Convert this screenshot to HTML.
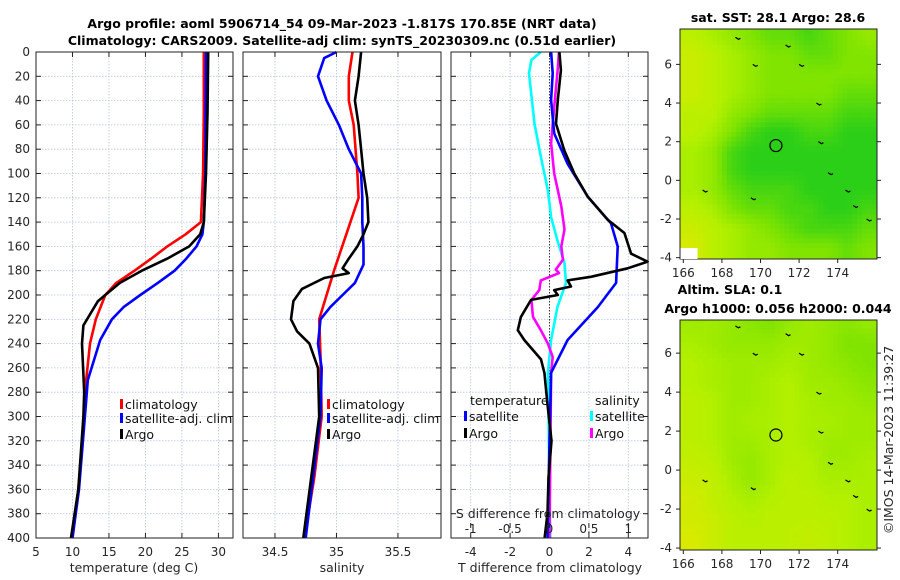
<!DOCTYPE html>
<html><head><meta charset="utf-8"><style>
html,body{margin:0;padding:0;background:#fff}
svg{display:block;font-family:"DejaVu Sans","Liberation Sans",sans-serif}
</style></head><body>
<svg id="c" width="900" height="580" viewBox="0 0 900 580">
<g id="g"></g>
</svg>
<script>
// ---------- data ----------
const depthTicks=[0,20,40,60,80,100,120,140,160,180,200,220,240,260,280,300,320,340,360,380,400];
// Panel 1 temperature
const tClimD=[0,50,100,140,150,160,170,180,190,200,220,240,280,320,360,400];
const tClimV=[28.0,28.0,27.9,27.6,25.5,23,20.8,18.5,16,14.5,13.2,12.4,11.7,11.4,10.8,10];
const tSatD=[0,100,140,150,160,170,180,190,200,210,220,237,270,300,360,400];
const tSatV=[28.3,28.2,28.0,27.8,27,25.6,24,21.7,19.3,17,15.4,13.8,12.1,11.7,10.9,10];
const tArgoD=[0,50,100,140,150,160,170,180,190,200,205,215,225,240,280,300,360,400];
const tArgoV=[28.6,28.5,28.3,28.0,27.5,26,23,19.5,16.5,14.5,13.5,12.5,11.5,11.3,11.6,11.5,10.8,9.8];
const tTicks=[5,10,15,20,25,30];
// Panel 2 salinity
const sClimD=[0,20,40,60,100,120,150,180,200,220,250,300,350,400];
const sClimV=[35.13,35.1,35.1,35.14,35.17,35.18,35.08,34.98,34.92,34.86,34.87,34.88,34.82,34.74];
const sSatD=[0,5,20,40,60,80,100,120,140,160,175,190,200,210,220,240,260,300,400];
const sSatV=[35.0,34.9,34.85,34.92,35.02,35.1,35.2,35.21,35.21,35.22,35.22,35.15,35.05,34.95,34.87,34.85,34.88,34.87,34.75];
const sArgoD=[0,20,40,60,80,100,120,140,150,160,170,178,182,186,195,205,220,230,240,260,300,400];
const sArgoV=[35.2,35.18,35.15,35.18,35.2,35.22,35.25,35.26,35.22,35.17,35.1,35.05,35.1,34.9,34.72,34.65,34.63,34.68,34.78,34.85,34.86,34.73];
const sTicks=[34.5,35,35.5];
// Panel 3 differences
const dTSatD=[0,17.5,39.5,67,92,119,141,160,190,210,237,264,320,400];
const dTSatV=[0.08,0.16,0.08,0.24,0.92,1.94,3.12,3.46,3.38,2.45,0.92,0.08,0,-0.1];
const dTArgoD=[0,15,39.5,59,81,100,119,138,149,166,172.6,178,185,188,193,196,200,204,218,229,237,253,264,290,320,350,380,400];
const dTArgoV=[0.5,0.58,0.42,0.33,0.75,1.26,1.94,2.95,3.8,4.14,4.98,3.97,2.1,0.92,1.09,0.24,0.42,-0.94,-1.45,-1.61,-1.28,-0.43,-0.26,-0.1,0.1,-0.05,-0.1,-0.25];
const dSSatD=[0,6.6,17.5,59,86,114,136,155,174,190,210,237,264,400];
const dSSatV=[-0.11,-0.23,-0.26,-0.19,-0.11,-0.02,0.02,0.1,0.19,0.21,0.1,0.02,-0.02,0.01];
const dSArgoD=[0,17.5,31,59,75,100,127,146,160,171,179,182,188,196,204,218,229,240,251,264,400];
const dSArgoV=[0.12,0.1,0.08,0.04,0.02,0.06,0.15,0.19,0.15,0.17,0.08,0.12,-0.11,-0.13,-0.23,-0.21,-0.11,-0.02,0.04,0.02,0.0];
const dTTicks=[-4,-2,0,2,4];
const dSTicks=[-1,-0.5,0,0.5,1];
const dSTickLabels=["-1","-0.5","0","0.5","1"];
// Maps (rows lat 7.5 .. -3.5, cols lon 166.5 .. 175.5)
const lonTicks=[166,168,170,172,174];
const sstLatTicks=[-4,-2,0,2,4,6];
const slaLatTicks=[-4,-2,0,2,4,6];
const sstGrid=[
[.3,.4,.5,.6,.7,.7,.8,.7,.6,.5],
[.2,.3,.4,.5,.6,.6,.7,.7,.6,.6],
[.2,.3,.4,.5,.6,.6,.6,.6,.6,.6],
[.2,.3,.4,.5,.6,.6,.6,.6,.7,.7],
[.3,.3,.5,.6,.7,.7,.7,.7,.8,.8],
[.3,.4,.6,.8,.9,.9,.8,.8,.9,.9],
[.4,.5,.8,.9,.9,.9,.9,.9,.9,.9],
[.4,.5,.8,.9,.9,.9,.9,.9,.9,.9],
[.4,.5,.7,.8,.8,.8,.9,.9,.9,.9],
[.3,.4,.6,.7,.7,.8,.8,.9,.9,.8],
[.2,.3,.4,.5,.6,.7,.8,.8,.8,.7],
[.1,.3,.4,.5,.5,.6,.6,.6,.7,.6]];
const slaGrid=[
[.45,.45,.5,.55,.6,.5,.45,.5,.55,.5],
[.4,.45,.5,.5,.5,.45,.45,.5,.6,.6],
[.35,.4,.45,.45,.45,.4,.45,.5,.55,.6],
[.35,.4,.45,.45,.4,.35,.45,.45,.5,.55],
[.3,.35,.45,.45,.4,.35,.4,.45,.45,.5],
[.3,.35,.45,.4,.4,.35,.4,.4,.45,.45],
[.3,.35,.45,.45,.4,.35,.4,.45,.45,.45],
[.25,.3,.45,.5,.4,.35,.35,.45,.45,.4],
[.2,.25,.4,.5,.4,.3,.35,.4,.4,.4],
[.15,.25,.35,.4,.35,.3,.3,.35,.35,.4],
[.15,.2,.3,.35,.3,.3,.3,.3,.35,.4],
[.1,.2,.3,.3,.3,.3,.25,.3,.35,.4]];
const argoLon=170.8, argoLat=1.8;

// ---------- helpers ----------
const NS="http://www.w3.org/2000/svg";
const G=document.getElementById('g');
function el(tag,attrs,parent){const e=document.createElementNS(NS,tag);for(const k in attrs)e.setAttribute(k,attrs[k]);(parent||G).appendChild(e);return e;}
function txt(x,y,s,opts,parent){const t=el('text',Object.assign({x:x,y:y,'font-size':12,fill:'#262626'},opts||{}),parent);t.textContent=s;return t;}
const PT=52,PB=538;
const yD=d=>PT+(PB-PT)*d/400;
function mkX(x0,x1,v0,v1){return v=>x0+(x1-x0)*(v-v0)/(v1-v0);}
const xT=mkX(36,233,5,32);
const xS=mkX(243,441,34.24,35.85);
const xDT=mkX(451,648,-5,5);
const xDS=mkX(451,648,-1.25,1.25);

function panel(name,x0,x1,xs,xticks,xlabels,showY){
  const g=el('g',{});
  
  
  xticks.forEach(v=>{el('line',{x1:xs(v),x2:xs(v),y1:PT,y2:PB,stroke:'#b8c4e0','stroke-width':0.8,'stroke-dasharray':'1.5,1.5'},g);});
  depthTicks.forEach(d=>{el('line',{x1:x0,x2:x1,y1:yD(d),y2:yD(d),stroke:'#b8c4e0','stroke-width':0.8,'stroke-dasharray':'1.5,1.5'},g);
    el('line',{x1:x0,x2:x0+5,y1:yD(d),y2:yD(d),stroke:'#222'},g);
    el('line',{x1:x1-5,x2:x1,y1:yD(d),y2:yD(d),stroke:'#222'},g);
    if(showY){const t=txt(30,yD(d)+4,String(d),{'text-anchor':'end'},g);}
  });
  xticks.forEach((v,i)=>{el('line',{x1:xs(v),x2:xs(v),y1:PB-5,y2:PB,stroke:'#222'},g);el('line',{x1:xs(v),x2:xs(v),y1:PT,y2:PT+5,stroke:'#222'},g);
    if(xlabels){const t=txt(xs(v),556,xlabels[i],{'text-anchor':'middle'},g);}
  });
  return g;
}
function line(name,D,V,xs,color,w){
  const pts=D.map((d,i)=>xs(V[i]).toFixed(1)+','+yD(d).toFixed(1)).join(' ');
  const p=el('polyline',{points:pts,fill:'none',stroke:color,'stroke-width':w||2.6,'stroke-linejoin':'round'});
  
  
  return p;
}
function frame(x0,x1){el('rect',{x:x0,y:PT,width:x1-x0,height:PB-PT,fill:'none',stroke:'#222','stroke-width':1});}
function legendItem(x,y,color,label,name){
  const g=el('g',{});
  
  
  el('rect',{x:x,y:y-10,width:3,height:10,fill:color},g);
  txt(x+5,y,label,{'font-size':12.5,fill:'#111'},g);
}

// ---------- title ----------
let t=txt(342,28,'Argo profile: aoml 5906714_54 09-Mar-2023 -1.817S 170.85E (NRT data)',{'text-anchor':'middle','font-weight':'bold','font-size':12.5,fill:'#000'});

t=txt(342,45,'Climatology: CARS2009. Satellite-adj clim: synTS_20230309.nc (0.51d earlier)',{'text-anchor':'middle','font-weight':'bold','font-size':12.5,fill:'#000'});


// ---------- panel 1 ----------
panel('temperature-panel',36,233,xT,tTicks,tTicks.map(String),true);
line('temp-climatology-line',tClimD,tClimV,xT,'#ff0000');
line('temp-satellite-line',tSatD,tSatV,xT,'#0000ff');
line('temp-argo-line',tArgoD,tArgoV,xT,'#000000');
frame(36,233);
t=txt(134,572,'temperature (deg C)',{'text-anchor':'middle','font-size':12.5});
legendItem(120,409,'#ff0000','climatology','legend-climatology');
legendItem(120,423,'#0000ff','satellite-adj. clim','legend-satellite-adj');
legendItem(120,439,'#000000','Argo','legend-argo');

// ---------- panel 2 ----------
panel('salinity-panel',243,441,xS,sTicks,sTicks.map(String),false);
line('sal-climatology-line',sClimD,sClimV,xS,'#ff0000');
line('sal-satellite-line',sSatD,sSatV,xS,'#0000ff');
line('sal-argo-line',sArgoD,sArgoV,xS,'#000000');
frame(243,441);
t=txt(342,572,'salinity',{'text-anchor':'middle','font-size':12.5});
legendItem(327,409,'#ff0000','climatology','legend2-climatology');
legendItem(327,423,'#0000ff','satellite-adj. clim','legend2-satellite-adj');
legendItem(327,439,'#000000','Argo','legend2-argo');

// ---------- panel 3 ----------
panel('difference-panel',451,648,xDT,dTTicks,dTTicks.map(String),false);
el('line',{x1:xDT(0),x2:xDT(0),y1:PT,y2:PB,stroke:'#333','stroke-width':1,'stroke-dasharray':'1.5,1.5'});
line('dS-satellite-line',dSSatD,dSSatV,xDS,'#00ffff');
line('dS-argo-line',dSArgoD,dSArgoV,xDS,'#ff00ff');
line('dT-satellite-line',dTSatD,dTSatV,xDT,'#0000ff');
line('dT-argo-line',dTArgoD,dTArgoV,xDT,'#000000');
frame(451,648);
dSTicks.forEach((v,i)=>{const tt=txt(xDS(v),533,dSTickLabels[i],{'text-anchor':'middle'});
  el('line',{x1:xDS(v),x2:xDS(v),y1:PB-10,y2:PB-15,stroke:'#222'});});
t=txt(548,518,'S difference from climatology',{'text-anchor':'middle','font-size':12.5});
t=txt(550,572,'T difference from climatology',{'text-anchor':'middle','font-size':12.5});
t=txt(470,405,'temperature',{'font-size':12.5,fill:'#111'});
t=txt(595,405,'salinity',{'font-size':12.5,fill:'#111'});
legendItem(464,421,'#0000ff','satellite','legend3-t-satellite');
legendItem(464,438,'#000000','Argo','legend3-t-argo');
legendItem(590,421,'#00ffff','satellite','legend3-s-satellite');
legendItem(590,438,'#ff00ff','Argo','legend3-s-argo');

// ---------- maps ----------
const stops=[[0,[230,232,0]],[0.35,[180,240,0]],[0.6,[128,228,0]],[1,[16,200,32]]];
function col(v){v=Math.max(0,Math.min(1,v));for(let i=1;i<stops.length;i++){if(v<=stops[i][0]){const a=stops[i-1],b=stops[i],f=(v-a[0])/(b[0]-a[0]);return 'rgb('+a[1].map((c,k)=>Math.round(c+(b[1][k]-c)*f)).join(',')+')';}}return 'rgb(16,200,32)';}
const xLon=mkX(683.3,837.7,166,174);
function sample(grid,lon,lat){
  // grid centres: lon 166.5+c, lat 7.5-r
  let cf=Math.max(0,Math.min(9,lon-166.5)), rf=Math.max(0,Math.min(11,7.5-lat));
  const c0=Math.min(8,Math.floor(cf)), r0=Math.min(10,Math.floor(rf)), fx=cf-c0, fy=rf-r0;
  return grid[r0][c0]*(1-fx)*(1-fy)+grid[r0][c0+1]*fx*(1-fy)+grid[r0+1][c0]*(1-fx)*fy+grid[r0+1][c0+1]*fx*fy;
}
function map(name,grid,top,bottom,latTop,latBot,latTicks){
  const yLat=mkX(top,bottom,latTop,latBot);
  const g=el('g',{});
  
  
  const cid='clip'+name;
  const cp=el('clipPath',{id:cid},g);
  el('rect',{x:680,y:top,width:197,height:bottom-top},cp);
  const cg=el('g',{'clip-path':'url(#'+cid+')'},g);
  const step=0.25;
  for(let lat=8;lat>-4.5;lat-=step){
    for(let lon=165.75;lon<176.25;lon+=step){
      const v=sample(grid,lon+step/2,lat-step/2);
      const x0=xLon(lon), x1=xLon(lon+step), y0=yLat(lat), y1=yLat(lat-step);
      const cell=el('rect',{x:x0.toFixed(1),y:y0.toFixed(1),width:(x1-x0+0.6).toFixed(1),height:(y1-y0+0.6).toFixed(1),fill:col(v)},cg);
      
      
    }
  }
  [[172.9,4.0],[173.0,2.0],[173.5,0.4],[174.4,-0.5],[174.8,-1.3],[175.5,-2.0],[167,-0.5],[169.5,-0.9],[168.7,7.4],[171.3,7.0],[172,6.0],[169.6,6.0]].forEach(p=>{
    el('path',{d:'M'+xLon(p[0])+','+yLat(p[1])+' l3,2 l2,-1',stroke:'#000','stroke-width':1.2,fill:'none'},cg);});
  const m=el('circle',{cx:xLon(argoLon),cy:yLat(argoLat),r:6,fill:'none',stroke:'#000','stroke-width':1.2},g);
  
  el('rect',{x:680,y:top,width:197,height:bottom-top,fill:'none',stroke:'#222','stroke-width':1},g);
  latTicks.forEach(v=>{const y=yLat(v);if(y<top||y>bottom)return;
    el('line',{x1:676,x2:680,y1:y,y2:y,stroke:'#222'},g);el('line',{x1:877,x2:881,y1:y,y2:y,stroke:'#222'},g);
    const tt=txt(672,y+4,String(v),{'text-anchor':'end'},g);});
  lonTicks.forEach(v=>{const x=xLon(v);el('line',{x1:x,x2:x,y1:bottom,y2:bottom+4,stroke:'#222'},g);
    const tt=txt(x,bottom+18,String(v),{'text-anchor':'middle'},g);});
  return yLat;
}
map('sst-map',sstGrid,29,259,7.83,-4.07,sstLatTicks);
el('rect',{x:680.5,y:mkX(29,259,7.83,-4.07)(-3.5),width:17,height:11,fill:'#fff'});
map('sla-map',slaGrid,320,550,7.7,-4.1,slaLatTicks);
t=txt(778,22,'sat. SST: 28.1 Argo: 28.6',{'text-anchor':'middle','font-weight':'bold','font-size':12.5,fill:'#000'});
t=txt(730,294,'Altim. SLA: 0.1',{'text-anchor':'middle','font-weight':'bold','font-size':12.5,fill:'#000'});
t=txt(778,313,'Argo h1000: 0.056 h2000: 0.044',{'text-anchor':'middle','font-weight':'bold','font-size':12.5,fill:'#000'});
t=txt(0,0,'©IMOS 14-Mar-2023 11:39:27',{'text-anchor':'middle','font-size':12.5,transform:'translate(893,440) rotate(-90)'});
</script>
</body></html>
